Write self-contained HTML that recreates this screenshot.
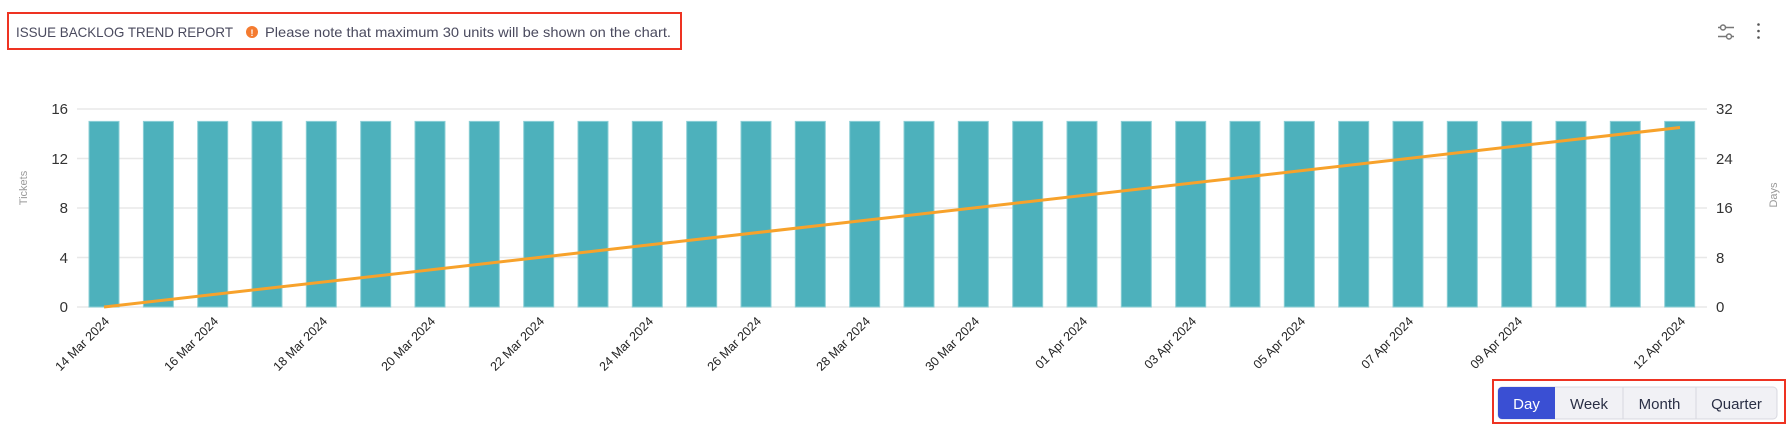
<!DOCTYPE html>
<html><head><meta charset="utf-8"><style>
html,body{margin:0;padding:0;background:#fff;}
svg{display:block;font-family:"Liberation Sans",sans-serif;}
</style></head><body>
<svg width="1788" height="427" viewBox="0 0 1788 427" xmlns="http://www.w3.org/2000/svg">
<rect x="8" y="13" width="673" height="36" fill="none" stroke="#ee3322" stroke-width="2"/>
<text x="16" y="37" font-size="14" fill="#4a4a5e" textLength="217" lengthAdjust="spacingAndGlyphs">ISSUE BACKLOG TREND REPORT</text>
<circle cx="252" cy="32" r="6" fill="#f47b30"/>
<text x="250.5" y="36" font-size="9" font-weight="bold" fill="#fff">!</text>
<text x="265" y="37" font-size="14" fill="#4a4a5e" textLength="406" lengthAdjust="spacingAndGlyphs">Please note that maximum 30 units will be shown on the chart.</text>
<g stroke="#777" stroke-width="1.5" fill="#fff">
<line x1="1718" y1="27.5" x2="1734" y2="27.5"/><line x1="1718" y1="36.5" x2="1734" y2="36.5"/>
<circle cx="1723" cy="27.5" r="2.5"/><circle cx="1729" cy="36.5" r="2.5"/>
</g>
<g fill="#555"><circle cx="1758.5" cy="24.5" r="1.3"/><circle cx="1758.5" cy="31" r="1.3"/><circle cx="1758.5" cy="37.5" r="1.3"/></g>
<g stroke="#e8e8e8" stroke-width="1.5">
<line x1="77" y1="109" x2="1707" y2="109"/><line x1="77" y1="158.5" x2="1707" y2="158.5"/>
<line x1="77" y1="208" x2="1707" y2="208"/><line x1="77" y1="257.5" x2="1707" y2="257.5"/>
<line x1="77" y1="307" x2="1707" y2="307"/>
</g>
<g font-size="15" fill="#333" text-anchor="end">
<text x="68" y="114">16</text><text x="68" y="164">12</text><text x="68" y="213">8</text><text x="68" y="263">4</text><text x="68" y="312">0</text>
</g>
<g font-size="15" fill="#333">
<text x="1716" y="114">32</text><text x="1716" y="164">24</text><text x="1716" y="213">16</text><text x="1716" y="263">8</text><text x="1716" y="312">0</text>
</g>
<text transform="translate(27,188) rotate(-90)" font-size="11" fill="#999" text-anchor="middle">Tickets</text>
<text transform="translate(1777,195) rotate(-90)" font-size="11" fill="#999" text-anchor="middle">Days</text>
<g fill="#4db1bc" stroke="#8ccfd6" stroke-width="1">
<rect x="89" y="121.4" width="30" height="185.6"/><rect x="143.4" y="121.4" width="30" height="185.6"/><rect x="197.7" y="121.4" width="30" height="185.6"/><rect x="252" y="121.4" width="30" height="185.6"/><rect x="306.3" y="121.4" width="30" height="185.6"/><rect x="360.7" y="121.4" width="30" height="185.6"/><rect x="415" y="121.4" width="30" height="185.6"/><rect x="469.3" y="121.4" width="30" height="185.6"/><rect x="523.7" y="121.4" width="30" height="185.6"/><rect x="578" y="121.4" width="30" height="185.6"/><rect x="632.3" y="121.4" width="30" height="185.6"/><rect x="686.7" y="121.4" width="30" height="185.6"/><rect x="741" y="121.4" width="30" height="185.6"/><rect x="795.3" y="121.4" width="30" height="185.6"/><rect x="849.7" y="121.4" width="30" height="185.6"/><rect x="904" y="121.4" width="30" height="185.6"/><rect x="958.3" y="121.4" width="30" height="185.6"/><rect x="1012.7" y="121.4" width="30" height="185.6"/><rect x="1067" y="121.4" width="30" height="185.6"/><rect x="1121.3" y="121.4" width="30" height="185.6"/><rect x="1175.7" y="121.4" width="30" height="185.6"/><rect x="1230" y="121.4" width="30" height="185.6"/><rect x="1284.3" y="121.4" width="30" height="185.6"/><rect x="1338.7" y="121.4" width="30" height="185.6"/><rect x="1393" y="121.4" width="30" height="185.6"/><rect x="1447.3" y="121.4" width="30" height="185.6"/><rect x="1501.7" y="121.4" width="30" height="185.6"/><rect x="1556" y="121.4" width="30" height="185.6"/><rect x="1610.3" y="121.4" width="30" height="185.6"/><rect x="1664.7" y="121.4" width="30" height="185.6"/>
</g>
<line x1="104" y1="307" x2="1680" y2="127.5" stroke="#f7a22b" stroke-width="3"/>
<g font-size="12.5" fill="#222" text-anchor="end">
<text transform="translate(110,322) rotate(-45)">14 Mar 2024</text>
<text transform="translate(219,322) rotate(-45)">16 Mar 2024</text>
<text transform="translate(328,322) rotate(-45)">18 Mar 2024</text>
<text transform="translate(436,322) rotate(-45)">20 Mar 2024</text>
<text transform="translate(545,322) rotate(-45)">22 Mar 2024</text>
<text transform="translate(654,322) rotate(-45)">24 Mar 2024</text>
<text transform="translate(762,322) rotate(-45)">26 Mar 2024</text>
<text transform="translate(871,322) rotate(-45)">28 Mar 2024</text>
<text transform="translate(980,322) rotate(-45)">30 Mar 2024</text>
<text transform="translate(1088,322) rotate(-45)">01 Apr 2024</text>
<text transform="translate(1197,322) rotate(-45)">03 Apr 2024</text>
<text transform="translate(1306,322) rotate(-45)">05 Apr 2024</text>
<text transform="translate(1414,322) rotate(-45)">07 Apr 2024</text>
<text transform="translate(1523,322) rotate(-45)">09 Apr 2024</text>
<text transform="translate(1686,322) rotate(-45)">12 Apr 2024</text>
</g>
<rect x="1493" y="380" width="292" height="43" fill="none" stroke="#ee3322" stroke-width="2"/>
<rect x="1498" y="387" width="279" height="32" rx="4" fill="#f1f1f5" stroke="#d8d8e0"/>
<path d="M1502 387 H1555 V419 H1502 A4 4 0 0 1 1498 415 V391 A4 4 0 0 1 1502 387Z" fill="#3a4fd3"/>
<g stroke="#d8d8e0"><line x1="1623" y1="387" x2="1623" y2="419"/><line x1="1696" y1="387" x2="1696" y2="419"/></g>
<g font-size="15" text-anchor="middle" fill="#2a2f45">
<text x="1526.5" y="409" fill="#fff">Day</text>
<text x="1589" y="409">Week</text>
<text x="1659.5" y="409">Month</text>
<text x="1736.5" y="409">Quarter</text>
</g>
</svg>
</body></html>
